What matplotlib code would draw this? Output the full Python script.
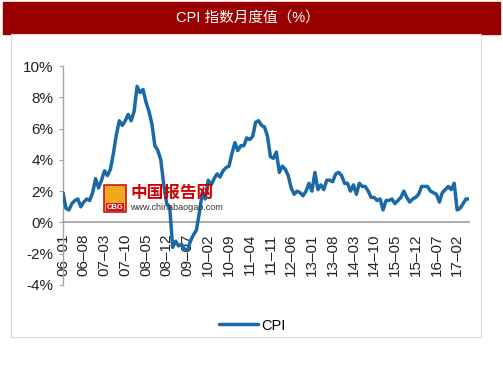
import numpy as np
import matplotlib
matplotlib.use("Agg")
import matplotlib.pyplot as plt
from matplotlib.patches import Rectangle

plt.rcParams['font.family'] = ['Liberation Sans', 'Noto Sans CJK SC', 'DejaVu Sans']

# CPI year-on-year, monthly, 2006-01 .. 2017-06
cpi = [1.9, 0.9, 0.8, 1.2, 1.4, 1.5, 1.0, 1.3, 1.5, 1.4, 1.9, 2.8,
       2.2, 2.7, 3.3, 3.0, 3.4, 4.4, 5.6, 6.5, 6.2, 6.5, 6.9, 6.5,
       7.1, 8.7, 8.3, 8.5, 7.7, 7.1, 6.3, 4.9, 4.6, 4.0, 2.4, 1.2,
       1.0, -1.6, -1.2, -1.5, -1.4, -1.7, -1.8, -1.2, -0.8, -0.5, 0.6, 1.9,
       1.5, 2.7, 2.4, 2.8, 3.1, 2.9, 3.3, 3.5, 3.6, 4.4, 5.1, 4.6,
       4.9, 4.9, 5.4, 5.3, 5.5, 6.4, 6.5, 6.2, 6.1, 5.5, 4.2, 4.1,
       4.5, 3.2, 3.6, 3.4, 3.0, 2.2, 1.8, 2.0, 1.9, 1.7, 2.0, 2.5,
       2.0, 3.2, 2.1, 2.4, 2.1, 2.7, 2.7, 2.6, 3.1, 3.2, 3.0, 2.5,
       2.5, 2.0, 2.4, 1.8, 2.5, 2.3, 2.3, 2.0, 1.6, 1.6, 1.4, 1.5,
       0.8, 1.4, 1.4, 1.5, 1.2, 1.4, 1.6, 2.0, 1.6, 1.3, 1.5, 1.6,
       1.8, 2.3, 2.3, 2.3, 2.0, 1.9, 1.8, 1.3, 1.9, 2.1, 2.3, 2.1,
       2.5, 0.8, 0.9, 1.2, 1.5, 1.5]
tick_labels = ['06–01', '06–08', '07–03', '07–10', '08–05', '08–12', '09–07',
               '10–02', '10–09', '11–04', '11–11', '12–06', '13–01', '13–08',
               '14–03', '14–10', '15–05', '15–12', '16–07', '17–02']
y_ticks = [-4, -2, 0, 2, 4, 6, 8, 10]

W, H = 503, 378
fig = plt.figure(figsize=(W / 100, H / 100), dpi=100)

def box(x0, y0, x1, y1):
    return [x0 / W, 1 - y1 / H, (x1 - x0) / W, (y1 - y0) / H]

# title bar and panel
fig.patches.append(Rectangle((3 / W, 1 - 34 / H), 497 / W, 32 / H,
                             transform=fig.transFigure, color='#9B0000', zorder=-2))
fig.patches.append(Rectangle((11 / W, 1 - 337 / H), 470 / W, 303 / H,
                             transform=fig.transFigure, facecolor='white',
                             edgecolor='#D9D9D9', lw=0.8, zorder=-2))
fig.text(248 / W, 1 - 18 / H, 'CPI 指数月度值（%）', color='white', fontsize=10.5,
         ha='center', va='center',
         family=['Liberation Sans', 'Noto Sans CJK SC'])

ax = fig.add_axes(box(63, 66, 469, 285))
ax.set_zorder(1)
ax.set_facecolor('none')
x = np.arange(len(cpi))
ax.plot(x, cpi, color='#1B6AA5', lw=2.5, solid_joinstyle='round',
        solid_capstyle='round', label='CPI', zorder=3)

ax.set_xlim(0, len(cpi) - 1)
ax.set_ylim(-4, 10)
ax.set_yticks(y_ticks)
ax.set_yticklabels([f'{v}%' for v in y_ticks])
ax.set_xticks(x[::7])
ax.set_xticklabels(tick_labels)

for s in ['top', 'right']:
    ax.spines[s].set_visible(False)
ax.spines['left'].set_color('#A6A6A6')
ax.spines['left'].set_linewidth(1)
ax.spines['bottom'].set_position(('data', 0))
ax.spines['bottom'].set_color('#A6A6A6')
ax.spines['bottom'].set_linewidth(1.3)
ax.tick_params(axis='y', length=3, color='#A6A6A6', labelsize=11, pad=4,
               labelcolor='#222222')
ax.tick_params(axis='x', length=0, pad=8, labelcolor='#222222',
               labelrotation=90, labelsize=11)

ax.legend(loc='center', bbox_to_anchor=(0.466, -0.185), frameon=False,
          fontsize=10.5, handlelength=2.7, handletextpad=0.2)

# watermark
fig.patches.append(Rectangle((104 / W, 1 - 212 / H), 22 / W, 27 / H,
                             transform=fig.transFigure, facecolor='#F2A81D',
                             edgecolor='#C8161D', lw=1.2, zorder=5))
fig.text(115 / W, 1 - 207 / H, 'CBG', color='white', fontsize=5.5, fontweight='bold',
         ha='center', va='center', zorder=6,
         bbox=dict(facecolor='#C8161D', edgecolor='none', pad=0.5))
fig.text(130 / W, 1 - 193 / H, '中国报告网', color='#D40000', fontsize=12,
         fontweight='bold', ha='left', va='center', zorder=6,
         family=['Noto Sans CJK SC'])
fig.text(130 / W, 1 - 208 / H, 'www.chinabaogao.com', color='#333333', fontsize=6.5,
         ha='left', va='center', zorder=6)

fig.savefig('out.png', dpi=100)
